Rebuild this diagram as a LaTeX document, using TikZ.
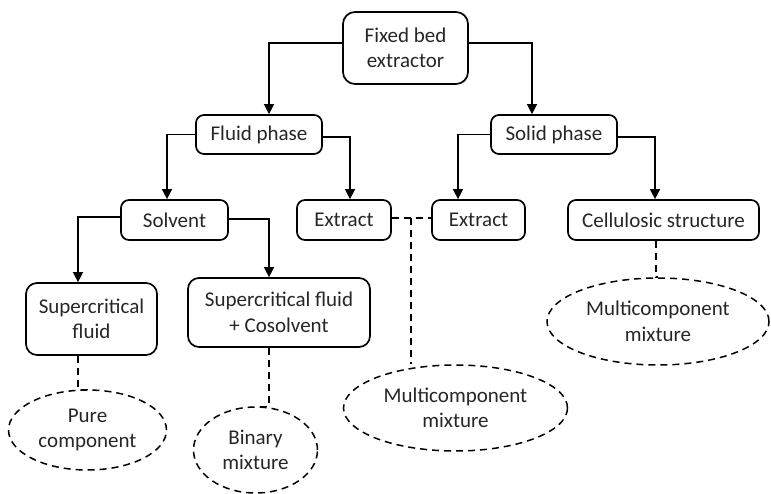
\documentclass[tikz,border=0pt]{standalone}
\usepackage{fontspec}
\setmainfont{Carlito}
\usetikzlibrary{arrows.meta,shapes.geometric}
\begin{document}
\begin{tikzpicture}[x=1pt,y=-1pt,
  lbl/.style={font=\fontsize{21}{25.5}\selectfont,text=black!85},
  box/.style={lbl,draw,rounded corners=8pt,line width=1.7pt,align=center,inner sep=0pt},
  oval/.style={lbl,draw,ellipse,dash pattern=on 7pt off 5pt,line width=1.5pt,align=center,inner sep=0pt},
  arr/.style={line width=1.4pt,-{Triangle[length=10pt,width=10pt]}},
  dsh/.style={line width=1.5pt,dash pattern=on 7pt off 5pt}]
\useasboundingbox (0,0) rectangle (771,494);
% boxes
\node[box,rounded corners=12pt,minimum width=125pt,minimum height=72pt] (fb) at (405.5,48) {Fixed bed\\extractor};
\node[box,minimum width=126pt,minimum height=39pt] (fluid) at (259,134.5) {Fluid phase};
\node[box,minimum width=126pt,minimum height=39pt] (solid) at (554,134.5) {Solid phase};
\node[box,minimum width=107pt,minimum height=40pt] (solvent) at (174.5,220) {Solvent};
\node[box,minimum width=94pt,minimum height=40pt] (extL) at (344,220) {Extract};
\node[box,minimum width=93pt,minimum height=40pt] (extR) at (478.5,220) {Extract};
\node[box,minimum width=191pt,minimum height=40pt] (cell) at (663.5,220) {Cellulosic structure};
\node[box,rounded corners=11pt,minimum width=131pt,minimum height=72pt] (scf) at (91.5,319) {Supercritical\\fluid};
\node[box,rounded corners=11pt,minimum width=182pt,minimum height=69pt] (scfc) at (279,312.5) {Supercritical fluid\\+ Cosolvent};
% ellipses
\node[oval,minimum width=158pt,minimum height=80pt] (pure) at (87.5,430) {Pure\\component};
\node[oval,minimum width=124pt,minimum height=86pt] (binary) at (255.5,450) {Binary\\mixture};
\node[oval,minimum width=224pt,minimum height=86pt] (mcm) at (455.5,408) {Multicomponent\\mixture};
\node[oval,minimum width=222pt,minimum height=87pt] (mcr) at (658,321.5) {Multicomponent\\mixture};
% arrows
\draw[arr] ([yshift=5pt]fb.west) -| ([xshift=10pt]fluid.north);
\draw[arr] ([yshift=5pt]fb.east) -| ([xshift=-22pt]solid.north);
\draw[arr] (fluid.west) -| ([xshift=-7.5pt]solvent.north);
\draw[arr] ([yshift=-2.5pt]fluid.east) -| ([xshift=6pt]extL.north);
\draw[arr] (solid.west) -| ([xshift=-20.5pt]extR.north);
\draw[arr] ([yshift=-2.5pt]solid.east) -| ([xshift=-8.5pt]cell.north);
\draw[arr] ([yshift=3pt]solvent.west) -| ([xshift=-13.5pt]scf.north);
\draw[arr] ([yshift=1pt]solvent.east) -| ([xshift=-10pt]scfc.north);
% dashed links
\draw[dsh] ([xshift=-13.5pt]scf.south) |- (pure.north);
\draw[dsh] ([xshift=-10pt]scfc.south) |- (binary.north);
\draw[dsh] ([yshift=2pt]extL.east) -- ([yshift=2pt]extR.west);
\coordinate (j) at ([xshift=19pt,yshift=2pt]extL.east);
\draw[dsh] (j) -- (j |- mcm.north);
\draw[dsh] ([xshift=-7.5pt]cell.south) |- (mcr.north);
\end{tikzpicture}
\end{document}
